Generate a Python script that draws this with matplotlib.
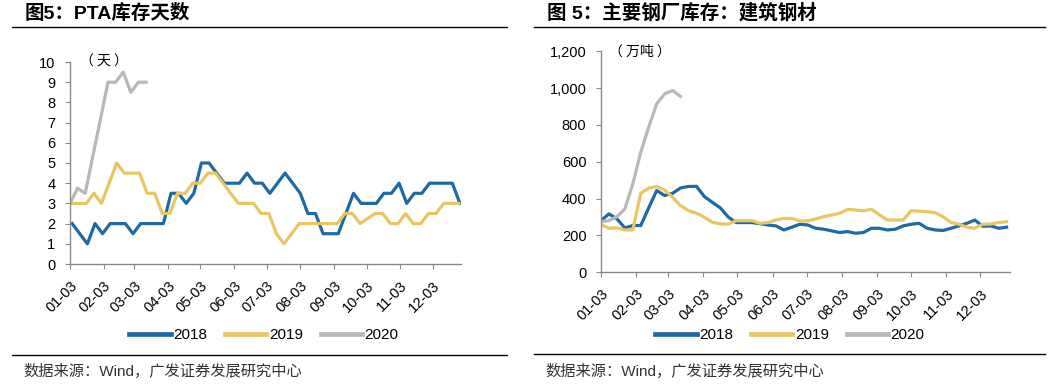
import numpy as np
import matplotlib
matplotlib.use('Agg')
import matplotlib.pyplot as plt
from matplotlib.lines import Line2D
from matplotlib.ticker import FuncFormatter

plt.rcParams['font.family'] = ['Liberation Sans', 'Noto Sans CJK SC']

# ---- data (weekly) ----
years = ['2018', '2019', '2020']
colors = ['#1f69a4', '#e8c565', '#b8b8b8']
start_offset = [2, 1, 0]  # first weekly obs, days after 01-03
month_labels = ['01-03', '02-03', '03-03', '04-03', '05-03', '06-03',
                '07-03', '08-03', '09-03', '10-03', '11-03', '12-03']

# PTA库存天数
pta_2018 = [2, 1.5, 1, 2, 1.5, 2, 2, 2, 1.5, 2, 2, 2, 2, 3.5, 3.5, 3, 3.5, 5, 5, 4.5,
            4, 4, 4, 4.5, 4, 4, 3.5, 4, 4.5, 4, 3.5, 2.5, 2.5, 1.5, 1.5, 1.5, 2.5, 3.5,
            3, 3, 3, 3.5, 3.5, 4, 3, 3.5, 3.5, 4, 4, 4, 4, 3]
pta_2019 = [3, 3, 3, 3.5, 3, 4, 5, 4.5, 4.5, 4.5, 3.5, 3.5, 2.5, 2.5, 3.5, 3.5, 4, 4,
            4.5, 4.5, 4, 3.5, 3, 3, 3, 2.5, 2.5, 1.5, 1, 1.5, 2, 2, 2, 2, 2, 2, 2.5,
            2.5, 2, 2.25, 2.5, 2.5, 2, 2, 2.5, 2, 2, 2.5, 2.5, 3, 3, 3]
pta_2020 = [3, 3.75, 3.5, 9, 9, 9.5, 8.5, 9, 9]
pta_2020_weeks = [0, 1, 2, 5, 6, 7, 8, 9, 10]  # no data over the Spring Festival

# 主要钢厂库存：建筑钢材（万吨）
steel_2018 = [281, 317, 290, 241, 254, 254, 350, 444, 417, 429, 458, 466, 467, 411,
              380, 350, 300, 270, 270, 270, 264, 257, 252, 230, 245, 261, 257, 239,
              234, 225, 216, 221, 212, 216, 239, 239, 230, 234, 252, 261, 266, 239,
              230, 227, 239, 252, 266, 284, 250, 252, 239, 245]
steel_2019 = [259, 239, 241, 230, 230, 429, 457, 466, 447, 408, 362, 335, 321, 299,
              272, 263, 262, 280, 280, 280, 266, 270, 284, 293, 293, 279, 279, 290,
              302, 311, 320, 342, 338, 334, 342, 313, 284, 284, 284, 334, 332, 329,
              324, 302, 271, 261, 245, 239, 261, 262, 270, 275]
steel_2020 = [275, 281, 302, 344, 480, 652, 788, 915, 969, 987, 955]

base = np.datetime64('2019-01-03')


def to_dates(weeks, offset):
    return base + np.timedelta64(offset, 'D') + np.asarray(weeks) * np.timedelta64(7, 'D')


month_ticks = [np.datetime64(f'2019-{m:02d}-03') for m in range(1, 13)]

W, H = 1058, 388
fig = plt.figure(figsize=(W / 100, H / 100), dpi=100)


def px_axes(x0, y0, x1, y1):
    return fig.add_axes([x0 / W, 1 - y1 / H, (x1 - x0) / W, (y1 - y0) / H])


def style(ax, ylim, yticks):
    for s in ['top', 'right']:
        ax.spines[s].set_visible(False)
    for s in ['left', 'bottom']:
        ax.spines[s].set_color('#8a8a8a')
        ax.spines[s].set_linewidth(1)
    ax.set_ylim(*ylim)
    ax.set_yticks(yticks)
    ax.set_xlim(base, base + np.timedelta64(360, 'D'))
    ax.set_xticks(month_ticks)
    ax.set_xticklabels(month_labels, rotation=45, ha='right', va='top',
                       rotation_mode='anchor')
    ax.tick_params(axis='both', direction='out', length=3.5, color='#8a8a8a',
                   labelsize=10.5, labelcolor='black')
    ax.tick_params(axis='y', pad=7)
    ax.tick_params(axis='x', pad=7)
    ax.patch.set_alpha(0)


lw = 2.3

# ---- left panel ----
ax1 = px_axes(70, 62, 461, 264)
ax1.plot(to_dates(range(len(pta_2018)), start_offset[0]), pta_2018, color=colors[0], lw=lw)
ax1.plot(to_dates(range(len(pta_2019)), start_offset[1]), pta_2019, color=colors[1], lw=lw)
ax1.plot(to_dates(pta_2020_weeks, start_offset[2]), pta_2020, color=colors[2], lw=lw)
style(ax1, (0, 10), range(0, 11))
ax1.text(0.025, 1.0, '（ 天 ）', transform=ax1.transAxes, fontsize=10,
         family=['Noto Sans CJK SC'], va='center', ha='left')

# ---- right panel ----
ax2 = px_axes(601, 51.3, 1010, 272.3)
ax2.plot(to_dates(range(len(steel_2018)), 0), steel_2018, color=colors[0], lw=lw)
ax2.plot(to_dates(range(len(steel_2019)), 0), steel_2019, color=colors[1], lw=lw)
ax2.plot(to_dates(range(len(steel_2020)), 0), steel_2020, color=colors[2], lw=lw)
style(ax2, (0, 1200), range(0, 1201, 200))
ax2.yaxis.set_major_formatter(FuncFormatter(lambda v, p: f'{int(v):,}'))
ax2.text(0.02, 1.0, '（ 万吨 ）', transform=ax2.transAxes, fontsize=10,
         family=['Noto Sans CJK SC'], va='center', ha='left')

# ---- legends ----
handles = [Line2D([], [], color=c, lw=3.4) for c in colors]
for cx in (264 / W, 790 / W):
    fig.legend(handles, years, loc='center', bbox_to_anchor=(cx, 1 - 335 / H),
               ncol=3, frameon=False, fontsize=11, handlelength=2.7,
               handletextpad=0.15, columnspacing=1.2)

# ---- titles, rules, source ----
fig.text(25 / W, 1 - 13 / H, '图5：PTA库存天数', fontsize=14, fontweight='bold',
         va='center', ha='left', family=['Liberation Sans', 'Noto Sans CJK SC'])
fig.text(547 / W, 1 - 13 / H, '图 5：主要钢厂库存：建筑钢材', fontsize=14,
         fontweight='bold', va='center', ha='left',
         family=['Liberation Sans', 'Noto Sans CJK SC'])
for x0, x1, yt, yb in ((12, 507, 27, 355), (534, 1045, 27, 354)):
    fig.add_artist(Line2D([x0 / W, x1 / W], [1 - yt / H] * 2, color='black', lw=1))
    fig.add_artist(Line2D([x0 / W, x1 / W], [1 - yb / H] * 2, color='black', lw=1))
fig.text(23 / W, 1 - 371 / H, '数据来源：Wind，广发证券发展研究中心', fontsize=11,
         color='#333333', va='center', ha='left')
fig.text(545 / W, 1 - 371 / H, '数据来源：Wind，广发证券发展研究中心', fontsize=11,
         color='#333333', va='center', ha='left')

fig.savefig('out.png', dpi=100)
